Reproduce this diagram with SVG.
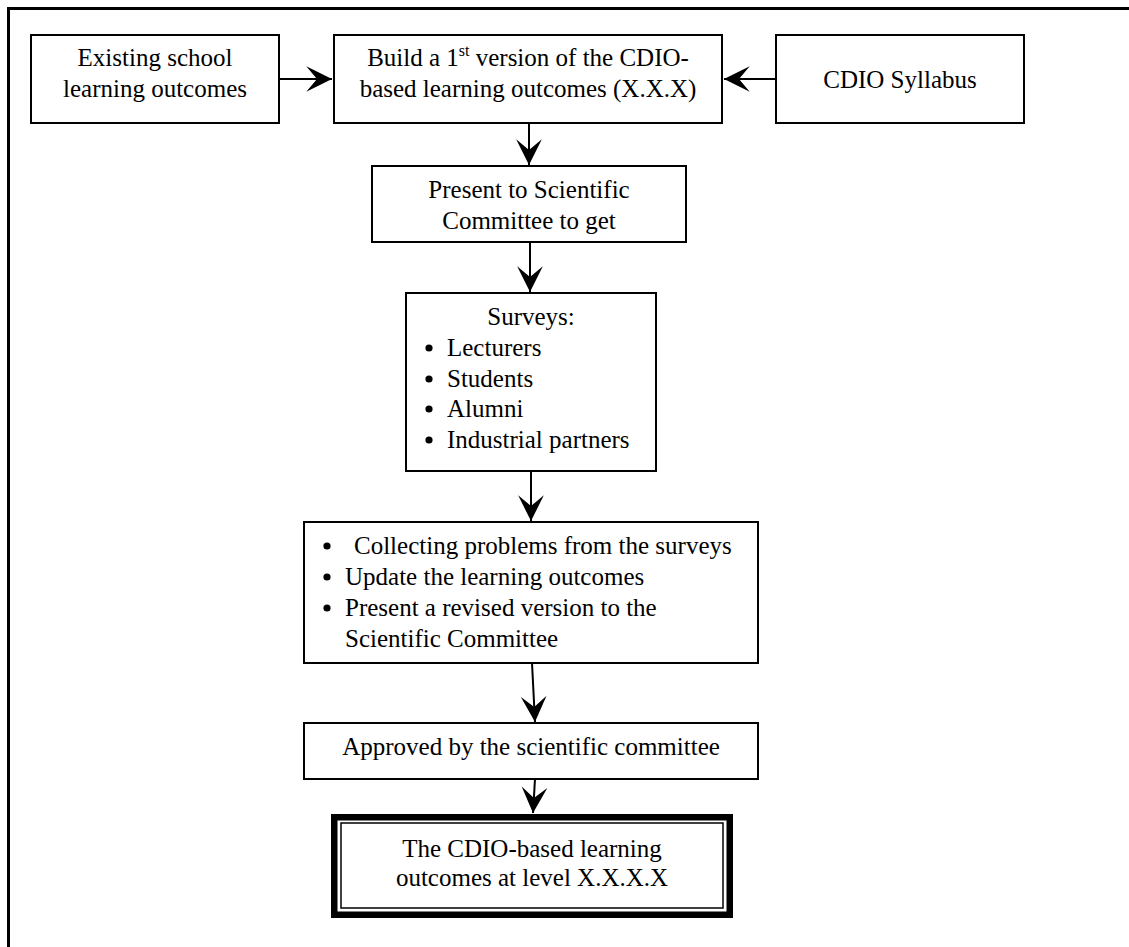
<svg xmlns="http://www.w3.org/2000/svg" width="1129" height="947" viewBox="0 0 1129 947">
<defs>
<style>
.box{fill:#fff;stroke:#000;stroke-width:2}
.t{font-family:"Liberation Serif","Times New Roman",serif;font-size:25px;fill:#000}
.c{text-anchor:middle}
.bul{fill:#000}
.con{stroke:#000;stroke-width:2;fill:none}
</style>
<marker id="ah" markerUnits="userSpaceOnUse" markerWidth="30" markerHeight="30" refX="0" refY="0" viewBox="-26 -14 28 28" orient="auto">
<path d="M0,0 L-24,-12 L-14,0 L-24,12 Z" fill="#000"/>
</marker>
</defs>
<rect width="1129" height="947" fill="#fff"/>
<path d="M8.5,947 V8.5 H1129" fill="none" stroke="#000" stroke-width="3"/>

<g id="connectors">
<line class="con" x1="279" y1="79" x2="332" y2="79" marker-end="url(#ah)"/>
<line class="con" x1="776" y1="79" x2="724" y2="79" marker-end="url(#ah)"/>
<line class="con" x1="529" y1="123" x2="529" y2="165" marker-end="url(#ah)"/>
<line class="con" x1="530" y1="242" x2="530" y2="292" marker-end="url(#ah)"/>
<line class="con" x1="531" y1="471" x2="531" y2="521" marker-end="url(#ah)"/>
<line class="con" x1="532" y1="663" x2="535" y2="722" marker-end="url(#ah)"/>
<line class="con" x1="535" y1="779" x2="533" y2="813" marker-end="url(#ah)"/>
</g>

<g id="existing">
<rect class="box" x="31" y="35" width="248" height="88"/>
<text class="t c" x="155" y="66">Existing school</text>
<text class="t c" x="155" y="97">learning outcomes</text>
</g>

<g id="build">
<rect class="box" x="334" y="35" width="388" height="88"/>
<text class="t c" x="528" y="66">Build a 1<tspan font-size="16" dy="-10">st</tspan><tspan dy="10"> version of the CDIO-</tspan></text>
<text class="t c" x="528" y="97">based learning outcomes (X.X.X)</text>
</g>

<g id="syllabus">
<rect class="box" x="776" y="35" width="248" height="88"/>
<text class="t c" x="900" y="88">CDIO Syllabus</text>
</g>

<g id="present">
<rect class="box" x="372" y="166" width="314" height="76"/>
<text class="t c" x="529" y="198">Present to Scientific</text>
<text class="t c" x="529" y="229">Committee to get</text>
</g>

<g id="surveys">
<rect class="box" x="406" y="293" width="250" height="178"/>
<text class="t c" x="531" y="325">Surveys:</text>
<circle class="bul" cx="429" cy="348" r="3.6"/>
<text class="t" x="447" y="356">Lecturers</text>
<circle class="bul" cx="429" cy="379" r="3.6"/>
<text class="t" x="447" y="387">Students</text>
<circle class="bul" cx="429" cy="409" r="3.6"/>
<text class="t" x="447" y="417">Alumni</text>
<circle class="bul" cx="429" cy="440" r="3.6"/>
<text class="t" x="447" y="448">Industrial partners</text>
</g>

<g id="collecting">
<rect class="box" x="304" y="522" width="454" height="141"/>
<circle class="bul" cx="327" cy="546" r="3.6"/>
<text class="t" x="354" y="554">Collecting problems from the surveys</text>
<circle class="bul" cx="327" cy="577" r="3.6"/>
<text class="t" x="345" y="585">Update the learning outcomes</text>
<circle class="bul" cx="327" cy="608" r="3.6"/>
<text class="t" x="345" y="616">Present a revised version to the</text>
<text class="t" x="345" y="647">Scientific Committee</text>
</g>

<g id="approved">
<rect class="box" x="304" y="723" width="454" height="56"/>
<text class="t c" x="531" y="755">Approved by the scientific committee</text>
</g>

<g id="final">
<rect x="334.25" y="817.25" width="395.5" height="97.5" fill="#fff" stroke="#000" stroke-width="6.5"/>
<rect x="341" y="823" width="382" height="85" fill="none" stroke="#000" stroke-width="1.5"/>
<text class="t c" x="532" y="857">The CDIO-based learning</text>
<text class="t c" x="532" y="886">outcomes at level X.X.X.X</text>
</g>
</svg>
